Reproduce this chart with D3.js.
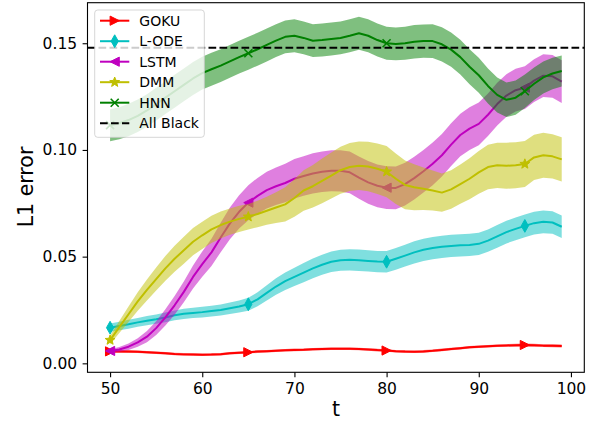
<!DOCTYPE html>
<html><head><meta charset="utf-8">
<script src="https://cdn.jsdelivr.net/npm/d3@7"></script>
<style>body{margin:0;background:#fff}svg{display:block}text{font-family:"DejaVu Sans",sans-serif;fill:#000}</style>
</head><body><svg id="c" width="601" height="425"></svg>
<script>
// ---- data ----
const times = d3.range(50, 100);
const markerTimes = [50, 65, 80, 95];
const xTicks = [50, 60, 70, 80, 90, 100];
const yTicks = [0.00, 0.05, 0.10, 0.15];
const allBlack = 0.1479;

const gokuMean = [0.0056,0.0056,0.0055,0.0054,0.0052,0.0050,0.0047,0.0044,0.0042,0.0041,
  0.0040,0.0041,0.0043,0.0047,0.0050,0.0052,0.0055,0.0057,0.0059,0.0061,
  0.0063,0.0064,0.0066,0.0067,0.0068,0.0068,0.0068,0.0067,0.0065,0.0062,
  0.0060,0.0057,0.0055,0.0054,0.0056,0.0059,0.0063,0.0067,0.0071,0.0075,
  0.0078,0.0080,0.0082,0.0084,0.0085,0.0086,0.0085,0.0083,0.0082,0.0081];
const gokuStd = [0.0006,0.0006,0.0006,0.0006,0.0006,0.0006,0.0006,0.0006,0.0006,0.0006,
  0.0006,0.0006,0.0006,0.0006,0.0006,0.0006,0.0006,0.0006,0.0006,0.0006,
  0.0006,0.0006,0.0006,0.0006,0.0006,0.0006,0.0006,0.0006,0.0006,0.0006,
  0.0006,0.0006,0.0006,0.0006,0.0006,0.0006,0.0006,0.0006,0.0006,0.0006,
  0.0006,0.0006,0.0006,0.0006,0.0007,0.0007,0.0007,0.0007,0.0007,0.0007];

const lodeMean = [0.0167,0.0175,0.0183,0.0192,0.0200,0.0207,0.0215,0.0225,0.0232,0.0236,
  0.0240,0.0245,0.0250,0.0258,0.0266,0.0277,0.0300,0.0330,0.0360,0.0385,
  0.0405,0.0425,0.0445,0.0462,0.0476,0.0483,0.0485,0.0483,0.0480,0.0477,
  0.0476,0.0490,0.0505,0.0520,0.0532,0.0540,0.0546,0.0550,0.0553,0.0555,
  0.0560,0.0575,0.0595,0.0615,0.0630,0.0644,0.0657,0.0663,0.0660,0.0640];
const lodeStd = [0.0020,0.0020,0.0021,0.0021,0.0022,0.0022,0.0023,0.0023,0.0024,0.0024,
  0.0025,0.0025,0.0026,0.0027,0.0028,0.0030,0.0033,0.0036,0.0039,0.0041,
  0.0043,0.0045,0.0046,0.0047,0.0048,0.0049,0.0050,0.0050,0.0050,0.0050,
  0.0050,0.0051,0.0051,0.0052,0.0052,0.0052,0.0052,0.0052,0.0052,0.0052,
  0.0052,0.0052,0.0053,0.0053,0.0053,0.0053,0.0053,0.0053,0.0053,0.0053];

const lstmMean = [0.0058,0.0065,0.0078,0.0098,0.0125,0.0165,0.0215,0.0272,0.0335,0.0405,
  0.0465,0.0520,0.0590,0.0656,0.0710,0.0753,0.0785,0.0812,0.0830,0.0845,
  0.0865,0.0878,0.0890,0.0898,0.0903,0.0902,0.0895,0.0870,0.0848,0.0832,
  0.0823,0.0822,0.0840,0.0868,0.0900,0.0935,0.0975,0.1025,0.1070,0.1100,
  0.1122,0.1165,0.1215,0.1255,0.1280,0.1292,0.1325,0.1348,0.1345,0.1320];
const lstmStd = [0.0008,0.0011,0.0015,0.0020,0.0026,0.0032,0.0038,0.0044,0.0049,0.0054,
  0.0059,0.0064,0.0069,0.0074,0.0078,0.0082,0.0084,0.0086,0.0088,0.0090,
  0.0092,0.0093,0.0094,0.0095,0.0096,0.0097,0.0098,0.0099,0.0100,0.0100,
  0.0100,0.0100,0.0100,0.0100,0.0100,0.0100,0.0100,0.0100,0.0100,0.0100,
  0.0100,0.0100,0.0100,0.0100,0.0100,0.0100,0.0100,0.0100,0.0100,0.0100];

const dmmMean = [0.0109,0.0170,0.0230,0.0290,0.0344,0.0395,0.0445,0.0490,0.0530,0.0570,
  0.0600,0.0628,0.0648,0.0664,0.0677,0.0687,0.0700,0.0715,0.0730,0.0745,
  0.0775,0.0810,0.0830,0.0855,0.0880,0.0905,0.0920,0.0926,0.0922,0.0912,
  0.0898,0.0865,0.0836,0.0825,0.0818,0.0810,0.0800,0.0815,0.0840,0.0865,
  0.0895,0.0920,0.0928,0.0926,0.0928,0.0934,0.0965,0.0975,0.0970,0.0956];
const dmmStd = [0.0020,0.0028,0.0036,0.0043,0.0049,0.0054,0.0058,0.0061,0.0063,0.0064,
  0.0064,0.0064,0.0063,0.0062,0.0061,0.0060,0.0062,0.0066,0.0072,0.0080,
  0.0088,0.0095,0.0100,0.0105,0.0108,0.0110,0.0112,0.0114,0.0116,0.0118,
  0.0120,0.0118,0.0114,0.0108,0.0100,0.0094,0.0090,0.0090,0.0092,0.0096,
  0.0100,0.0104,0.0106,0.0108,0.0108,0.0108,0.0106,0.0105,0.0104,0.0104];

const hnnMean = [0.1116,0.1125,0.1140,0.1160,0.1185,0.1215,0.1245,0.1275,0.1305,0.1335,
  0.1360,0.1378,0.1395,0.1415,0.1435,0.1453,0.1472,0.1492,0.1512,0.1530,
  0.1535,0.1525,0.1512,0.1515,0.1520,0.1525,0.1535,0.1547,0.1535,0.1515,
  0.1500,0.1497,0.1500,0.1507,0.1510,0.1510,0.1495,0.1470,0.1435,0.1390,
  0.1350,0.1300,0.1258,0.1235,0.1245,0.1275,0.1310,0.1340,0.1358,0.1370];
const hnnStd = [0.0075,0.0075,0.0076,0.0076,0.0076,0.0077,0.0077,0.0077,0.0077,0.0077,
  0.0077,0.0077,0.0077,0.0077,0.0077,0.0077,0.0077,0.0077,0.0077,0.0077,
  0.0077,0.0077,0.0077,0.0077,0.0077,0.0077,0.0077,0.0077,0.0077,0.0077,
  0.0077,0.0077,0.0077,0.0078,0.0078,0.0079,0.0080,0.0080,0.0081,0.0082,
  0.0082,0.0082,0.0082,0.0081,0.0080,0.0078,0.0076,0.0075,0.0074,0.0073];

const series = [
  {name: "GOKU",  color: "#ff0000", mean: gokuMean, std: gokuStd, marker: "triR"},
  {name: "L-ODE", color: "#00bfbf", mean: lodeMean, std: lodeStd, marker: "thinD"},
  {name: "LSTM",  color: "#bf00bf", mean: lstmMean, std: lstmStd, marker: "triL"},
  {name: "DMM",   color: "#bfbf00", mean: dmmMean, std: dmmStd, marker: "star"},
  {name: "HNN",   color: "#008000", mean: hnnMean, std: hnnStd, marker: "x"}
];

// ---- layout ----
const svg = d3.select("#c");
const x = d3.scaleLinear().domain([47.55, 101.45]).range([87.5, 584.3]);
const y = d3.scaleLinear().domain([-0.0042, 0.169]).range([372.3, 2.7]);

function markerPath(type) {
  if (type === "triR") return "M4.6,0L-4.6,-4.6L-4.6,4.6Z";
  if (type === "triL") return "M-4.6,0L4.6,-4.6L4.6,4.6Z";
  if (type === "thinD") return "M0,-6.4L3.6,0L0,6.4L-3.6,0Z";
  if (type === "star") {
    let p = [];
    for (let i = 0; i < 10; i++) {
      const r = i % 2 ? 2.2 : 5.2, a = -Math.PI / 2 + i * Math.PI / 5;
      p.push([r * Math.cos(a), r * Math.sin(a)]);
    }
    return "M" + p.map(d => d.join(",")).join("L") + "Z";
  }
  return "M-4,-4L4,4M-4,4L4,-4";
}

const plot = svg.append("g");
const line = d3.line().x(d => x(d.t)).y(d => y(d.v));
const area = d3.area().x(d => x(d.t)).y0(d => y(d.v - d.s)).y1(d => y(d.v + d.s));

series.forEach(s => {
  const pts = times.map((t, i) => ({t, v: s.mean[i], s: s.std[i]}));
  plot.append("path").datum(pts).attr("d", line)
    .attr("fill", "none").attr("stroke", s.color).attr("stroke-width", 2)
    .attr("stroke-linejoin", "round");
  plot.selectAll(null).data(pts.filter(p => markerTimes.includes(p.t))).enter()
    .append("path")
    .attr("transform", d => `translate(${x(d.t)},${y(d.v)})`)
    .attr("d", markerPath(s.marker))
    .attr("fill", s.marker === "x" ? "none" : s.color)
    .attr("stroke", s.color).attr("stroke-width", s.marker === "x" ? 1.6 : 1);
  plot.append("path").datum(pts).attr("d", area)
    .attr("fill", s.color).attr("fill-opacity", 0.5).attr("stroke", "none");
});

// All Black dashed line
plot.append("line")
  .attr("x1", 87.5).attr("x2", 584.3)
  .attr("y1", y(allBlack)).attr("y2", y(allBlack))
  .attr("stroke", "#000").attr("stroke-width", 2).attr("stroke-dasharray", "7.7,3.3");

// axes
const xAxis = svg.append("g").attr("transform", "translate(0,372.3)")
  .call(d3.axisBottom(x).tickValues(xTicks).tickFormat(d3.format("d")).tickSize(4.9).tickSizeOuter(0).tickPadding(5.5));
const yAxis = svg.append("g").attr("transform", "translate(87.5,0)")
  .call(d3.axisLeft(y).tickValues(yTicks).tickFormat(d3.format(".2f")).tickSize(4.9).tickSizeOuter(0).tickPadding(5.5));
[xAxis, yAxis].forEach(g => {
  g.select(".domain").remove();
  g.selectAll("text").attr("font-size", "15.5px").attr("font-family", "DejaVu Sans");
  g.selectAll("line").attr("stroke", "#000").attr("stroke-width", 1.1);
});

svg.append("rect").attr("x", 87.5).attr("y", 2.7).attr("width", 584.3 - 87.5).attr("height", 372.3 - 2.7)
  .attr("fill", "none").attr("stroke", "#000").attr("stroke-width", 1.1);

svg.append("text").attr("x", 336).attr("y", 416).attr("text-anchor", "middle")
  .attr("font-size", "20.5px").text("t");
svg.append("text").attr("transform", "translate(33,187) rotate(-90)").attr("text-anchor", "middle")
  .attr("font-size", "20.5px").text("L1 error");

// legend
const lg = svg.append("g");
lg.append("rect").attr("x", 94.7).attr("y", 10).attr("width", 109.6).attr("height", 127.3).attr("rx", 3)
  .attr("fill", "#fff").attr("fill-opacity", 0.8).attr("stroke", "#cccccc").attr("stroke-opacity", 0.8);
const legendItems = series.map(s => ({name: s.name, color: s.color, marker: s.marker, dash: null}))
  .concat([{name: "All Black", color: "#000", marker: null, dash: "7.7,3.3"}]);
legendItems.forEach((d, i) => {
  const yy = 20.7 + i * 20.5;
  lg.append("line").attr("x1", 100).attr("x2", 129.3).attr("y1", yy).attr("y2", yy)
    .attr("stroke", d.color).attr("stroke-width", 2).attr("stroke-dasharray", d.dash);
  if (d.marker) {
    lg.append("path").attr("transform", `translate(114.7,${yy})`).attr("d", markerPath(d.marker))
      .attr("fill", d.marker === "x" ? "none" : d.color)
      .attr("stroke", d.color).attr("stroke-width", d.marker === "x" ? 1.6 : 1);
  }
  lg.append("text").attr("x", 139.3).attr("y", yy + 5.2).attr("font-size", "14px").text(d.name);
});
</script></body></html>
